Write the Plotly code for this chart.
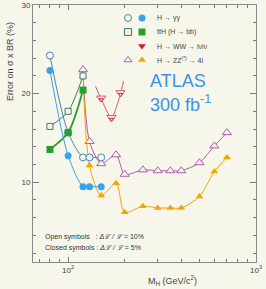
import plotly.graph_objects as go

# ---- data ----
gg_mass = [80, 100, 120, 130, 150]
gg_open = [24.3, 15.6, 12.8, 12.8, 12.8]
gg_closed = [22.6, 13.0, 9.5, 9.5, 9.5]

tth_mass = [80, 100, 120]
tth_open = [16.3, 18.0, 22.0]
tth_closed = [13.7, 15.6, 20.4]

ww_mass = [150, 170, 190]
ww_open = [19.5, 17.3, 20.1]
ww_closed = [19.3, 17.1, 19.9]
ww_line_mass = [140, 150, 170, 190, 197]
ww_line_val = [20.8, 19.4, 17.2, 20.0, 21.4]

zz_mass = [120, 130, 150, 180, 200, 250, 300, 350, 400, 500, 600, 700]
zz_open = [22.7, 14.6, 12.1, 13.1, 10.9, 11.4, 11.3, 11.3, 11.3, 12.2, 14.1, 15.6]
zz_closed = [22.0, 11.9, 8.5, 9.9, 6.6, 7.3, 7.1, 7.1, 7.1, 8.4, 11.2, 12.8]

x_ticks = [100, 1000]
x_ticktext = ["10<sup>2</sup>", "10<sup>3</sup>"]
x_minor = [70, 80, 90, 200, 300, 400, 500, 600, 700, 800, 900]
y_ticks = [10, 20, 30]

legend_labels = ["H → γγ", "ttH (H → bb)", "H → WW → lνlν", "H → ZZ<sup>(*)</sup> → 4l"]

# ---- styling ----
W, H = 266, 289
L, R, T, B = 33, 10, 5, 27
BG = "#f7f6ea"
FONT = "Liberation Sans, Arial, sans-serif"

C_GG = "#3aa2ec"; C_GG_O = "#4a86b8"
C_TTH = "#2a9e2a"; C_TTH_O = "#3f7a66"
C_WW = "#cc2233"; C_WW_O = "#d9556a"
C_ZZ = "#f2a600"; C_ZZ_O = "#b05cb0"


def px2x(px):
    return (px - L) / (W - L - R)


def px2y(py):
    return (H - B - py) / (H - T - B)


fig = go.Figure()


def add(xs, ys, color, symbol, size, lw=1.0, open_=False, mode="lines+markers", smooth=0.8):
    fig.add_trace(go.Scatter(
        x=xs, y=ys, mode=mode,
        line=dict(color=color, width=lw, shape="spline", smoothing=smooth),
        marker=dict(symbol=symbol, size=size,
                    color=(BG if open_ else color),
                    line=dict(color=color, width=(1.0 if open_ else 0))),
        showlegend=False, hoverinfo="skip"))


# WW curve (line), drawn under its markers
fig.add_trace(go.Scatter(x=ww_line_mass, y=ww_line_val, mode="lines",
                         line=dict(color=C_WW_O, width=1.0, shape="spline", smoothing=0.6),
                         showlegend=False, hoverinfo="skip"))

add(zz_mass, zz_open, C_ZZ_O, "triangle-up", 8, open_=True)
add(zz_mass, zz_closed, C_ZZ, "triangle-up", 7)
add(gg_mass, gg_open, C_GG_O, "circle", 7, open_=True)
add(tth_mass, tth_open, C_TTH_O, "square", 6, open_=True)
add(tth_mass, tth_closed, C_TTH, "square", 7, lw=1.8)
add(gg_mass, gg_closed, C_GG, "circle", 7)
add(ww_mass, ww_open, C_WW_O, "triangle-down", 8, open_=True, mode="markers")
add(ww_mass, ww_closed, C_WW, "triangle-down", 4, open_=True, mode="markers")

# ---- legend drawn on an overlay axis ----
rows_py = [18, 32, 46, 60]
open_syms = [("circle", C_GG_O), ("square", C_TTH_O), None, ("triangle-up", C_ZZ_O)]
closed_syms = [("circle", C_GG), ("square", C_TTH), ("triangle-down", C_WW), ("triangle-up", C_ZZ)]
for i, py in enumerate(rows_py):
    if open_syms[i]:
        s, c = open_syms[i]
        fig.add_trace(go.Scatter(x=[px2x(128)], y=[px2y(py)], mode="markers", xaxis="x2", yaxis="y2",
                                 marker=dict(symbol=s, size=7, color=BG, line=dict(color=c, width=1)),
                                 showlegend=False, hoverinfo="skip"))
    s, c = closed_syms[i]
    fig.add_trace(go.Scatter(x=[px2x(142)], y=[px2y(py)], mode="markers", xaxis="x2", yaxis="y2",
                             marker=dict(symbol=s, size=7, color=c, line=dict(width=0)),
                             showlegend=False, hoverinfo="skip"))
    fig.add_annotation(x=px2x(155), y=px2y(py), xref="paper", yref="paper", text=legend_labels[i],
                       showarrow=False, xanchor="left", yanchor="middle",
                       font=dict(size=7, color="#444", family=FONT))

fig.add_annotation(x=px2x(148), y=px2y(81), xref="paper", yref="paper", text="ATLAS",
                   showarrow=False, xanchor="left", yanchor="middle",
                   font=dict(size=18, color="#3d92e6", family=FONT))
fig.add_annotation(x=px2x(148), y=px2y(103), xref="paper", yref="paper", text="300 fb<sup>-1</sup>",
                   showarrow=False, xanchor="left", yanchor="middle",
                   font=dict(size=18, color="#3d92e6", family=FONT))

fig.add_annotation(x=px2x(43), y=px2y(237), xref="paper", yref="paper",
                   text="Open symbols   : <i>Δℒ / ℒ</i> = 10%",
                   showarrow=False, xanchor="left", yanchor="middle",
                   font=dict(size=7, color="#333", family=FONT))
fig.add_annotation(x=px2x(43), y=px2y(248), xref="paper", yref="paper",
                   text="Closed symbols : <i>Δℒ / ℒ</i> = 5%",
                   showarrow=False, xanchor="left", yanchor="middle",
                   font=dict(size=7, color="#333", family=FONT))

fig.add_annotation(x=px2x(172), y=px2y(280), xref="paper", yref="paper",
                   text="M<sub>H</sub> (GeV/c<sup>2</sup>)",
                   showarrow=False, xanchor="center", yanchor="middle",
                   font=dict(size=9, color="#444", family=FONT))
fig.add_annotation(x=px2x(10), y=px2y(62), xref="paper", yref="paper",
                   text="Error on σ x BR (%)", textangle=-90,
                   showarrow=False, xanchor="center", yanchor="middle",
                   font=dict(size=9, color="#444", family=FONT))

axis_common = dict(showline=True, linecolor="#8a8a8a", linewidth=1, mirror="ticks",
                   ticks="inside", tickcolor="#777", showgrid=False, zeroline=False,
                   automargin=False,
                   tickfont=dict(size=8, color="#444", family=FONT))

fig.update_layout(
    width=W, height=H, margin=dict(l=L, r=R, t=T, b=B),
    paper_bgcolor=BG, plot_bgcolor=BG,
    xaxis=dict(type="log", range=[1.813, 3.0], tickvals=x_ticks, ticktext=x_ticktext,
               ticklen=5, minor=dict(tickvals=x_minor, ticks="inside", ticklen=3, tickcolor="#777"),
               **axis_common),
    yaxis=dict(range=[1, 30], tickvals=y_ticks, ticklen=6,
               minor=dict(dtick=2, tick0=0, ticks="inside", ticklen=3, tickcolor="#777"),
               **axis_common),
    xaxis2=dict(overlaying="x", range=[0, 1], visible=False),
    yaxis2=dict(overlaying="y", range=[0, 1], visible=False),
)

fig.write_html("out.html", config={"displayModeBar": False},
               post_script="document.body.style.margin='0';document.body.style.overflow='hidden';")
